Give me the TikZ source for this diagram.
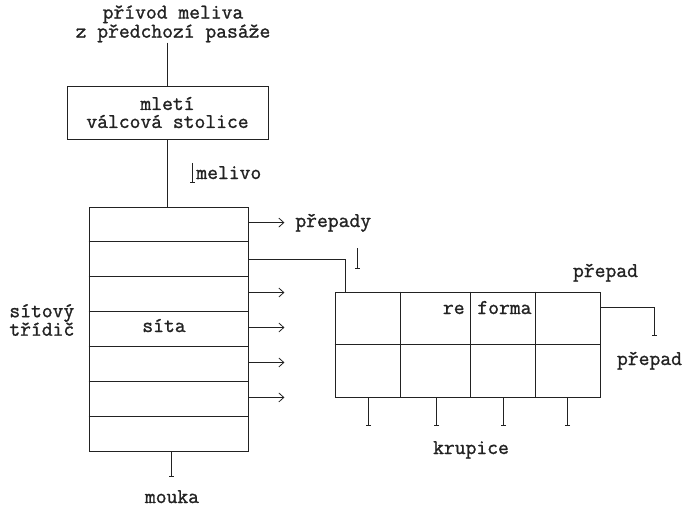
\documentclass[tikz,border=0pt]{standalone}
\usepackage{fontspec}
\setmonofont{Latin Modern Mono}[FakeBold=1.2]
\usetikzlibrary{arrows.meta,calc}
\definecolor{ink}{HTML}{222222}
\begin{document}
\begin{tikzpicture}[x=1pt,y=-1pt,
  line width=0.8pt, draw=ink, text=ink,
  every node/.style={inner sep=0pt, font=\ttfamily\fontsize{21}{18}\selectfont, text=ink},
  box/.style={draw=ink, rectangle},
  down/.style={-{Bar[width=5pt]}},
  outarr/.style={-{Straight Barb[length=5pt,width=9pt]}},
]
\useasboundingbox (0,0) rectangle (683,508);

% title
\node[anchor=south, align=center] (title) at (173,42.7) {přívod meliva\\z předchozí pasáže};

% mleti box
\node[box, minimum width=201pt, minimum height=53pt, align=center] (mleti) at (167.5,112.5) {mletí\\válcová stolice};
\draw (mleti.north |- title.south) -- (mleti.north);

% sieve stack
\node[box, minimum width=159pt, minimum height=244pt] (stack) at (168.5,329) {};
\foreach \k in {1,...,6} {
  \draw ($(stack.north west)!\k/7!(stack.south west)$) -- ($(stack.north east)!\k/7!(stack.south east)$);
}
\draw (mleti.south) -- (mleti.south |- stack.north);

% melivo
\coordinate (m1) at (192,163);
\coordinate (m2) at (192,183);
\draw[down] (m1) -- (m2);
\node[anchor=base west] (melivo) at (196,179) {melivo};

% outputs of sieves
\foreach \k in {1,3,4,5,6} {
  \pgfmathsetmacro\f{(\k-0.5)/7}
  \coordinate (s\k) at ($(stack.north east)!\f!(stack.south east)+(0,-1.5)$);
  \coordinate (o\k) at ($(s\k)+(36,0)$);
  \draw[outarr] (s\k) -- (o\k);
}
\node[anchor=base west] (prepady) at (295,227) {přepady};

\node[anchor=base] (sita) at (164,332) {síta};
\node[anchor=west, align=left, font=\ttfamily\fontsize{21}{18.5}\selectfont] (sitovy) at (9,320) {sítový\\třídič};

% flour
\coordinate (mk) at (171,477);
\draw[down] (mk |- stack.south) -- (mk);
\node[anchor=base] (mouka) at (172,503) {mouka};

% reform box
\node[box, minimum width=265pt, minimum height=105pt] (ref) at (467.5,344.5) {};
\draw (ref.west) -- (ref.east);
\foreach \dx in {66,136,201} {
  \draw ($(ref.north west)+(\dx,0)$) -- ($(ref.south west)+(\dx,0)$);
}
\node[anchor=base east] (re) at (465,314) {re};
\node[anchor=base west] (forma) at (477,314) {forma};

% connector stack -> reform
\coordinate (s2) at ($(stack.north east)!1.5/7!(stack.south east)$);
\coordinate (r1) at ($(ref.north west)+(11,0)$);
\draw (s2) -| (r1);
\coordinate (a1) at (357,248);
\coordinate (a2) at (357,269);
\draw[down] (a1) -- (a2);

% overflow
\node[anchor=base] (prepad1) at (605.5,277) {přepad};
\coordinate (e1) at ($(ref.north east)+(0,16)$);
\coordinate (e2) at ($(e1)+(54,28)$);
\draw[down] (e1) -| (e2);
\node[anchor=base] (prepad2) at (649.5,365) {přepad};

% krupice
\foreach \dx [count=\i] in {34,102,169,233} {
  \coordinate (k\i) at ($(ref.south west)+(\dx,28)$);
  \draw[down] (k\i |- ref.south) -- (k\i);
}
\node[anchor=base] (krupice) at (471,454) {krupice};
\end{tikzpicture}
\end{document}
